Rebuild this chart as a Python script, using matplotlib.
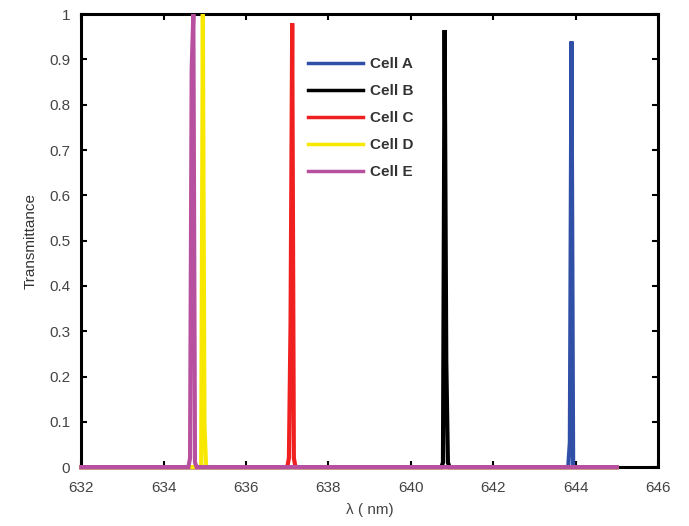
import matplotlib
matplotlib.use('Agg')
import matplotlib.pyplot as plt

plt.rcParams['font.family'] = ['Liberation Sans', 'DejaVu Sans']

labels = ['Cell A', 'Cell B', 'Cell C', 'Cell D', 'Cell E']
colors = ['#3050a8', '#000000', '#f02020', '#f8e800', '#b850a0']

# sampled points around each transmission peak (nm, transmittance)
cellA_lam = [632.0, 643.78, 643.82, 643.86, 643.90, 643.94, 643.98, 645.0]
cellA_T = [0.0, 0.0, 0.0, 0.055, 0.94, 0.0, 0.0, 0.0]
cellB_lam = [632.0, 640.74, 640.78, 640.82, 640.86, 640.90, 640.94, 645.0]
cellB_T = [0.0, 0.0, 0.01, 0.965, 0.235, 0.01, 0.0, 0.0]
cellC_lam = [632.0, 637.00, 637.04, 637.08, 637.12, 637.16, 637.20, 645.0]
cellC_T = [0.0, 0.0, 0.02, 0.32, 0.98, 0.02, 0.0, 0.0]
cellD_lam = [632.0, 634.87, 634.91, 634.95, 634.99, 635.03, 635.07, 645.0]
cellD_T = [0.0, 0.0, 0.0, 1.0, 0.09, 0.0, 0.0, 0.0]
cellE_lam = [632.0, 634.60, 634.64, 634.68, 634.72, 634.76, 634.80, 645.0]
cellE_T = [0.0, 0.0, 0.02, 0.88, 1.0, 0.01, 0.0, 0.0]

series = [(cellA_lam, cellA_T), (cellB_lam, cellB_T), (cellC_lam, cellC_T),
          (cellD_lam, cellD_T), (cellE_lam, cellE_T)]

xticks = [632, 634, 636, 638, 640, 642, 644, 646]
yticks = [0, 0.1, 0.2, 0.3, 0.4, 0.5, 0.6, 0.7, 0.8, 0.9, 1]
ytick_labels = ['0', '0.1', '0.2', '0.3', '0.4', '0.5', '0.6', '0.7', '0.8', '0.9', '1']

fig = plt.figure(figsize=(6.89, 5.26), dpi=100)
ax = fig.add_axes([0.118, 0.112, 0.837, 0.861])

for (lam, T), c, lab in zip(series, colors, labels):
    ax.plot(lam, T, color=c, linewidth=3.0, label=lab, solid_joinstyle='miter',
            clip_on=False, zorder=3)

ax.set_xlim(632, 646)
ax.set_ylim(0, 1)
ax.set_xticks(xticks)
ax.set_yticks(yticks)
ax.set_yticklabels(ytick_labels)
ax.tick_params(direction='in', length=4, width=1.5, top=True, right=True,
               labelsize=11, labelcolor='#444444')
ax.tick_params(axis='x', pad=10)
ax.tick_params(axis='y', pad=8)
for sp in ax.spines.values():
    sp.set_linewidth(2.2)
    sp.set_zorder(2)

ax.set_xlabel('λ ( nm)', fontsize=11, color='#444444', labelpad=6)
ax.set_ylabel('Transmittance', fontsize=11, color='#333333', labelpad=8)

leg = ax.legend(loc='upper left', bbox_to_anchor=(0.37, 0.935), frameon=False,
                fontsize=11, handlelength=3.6, handletextpad=0.4, labelspacing=0.85)
for line in leg.get_lines():
    line.set_linewidth(2.5)
for t in leg.get_texts():
    t.set_fontweight('bold')
    t.set_color('#333333')

fig.savefig('out.png', dpi=100)
